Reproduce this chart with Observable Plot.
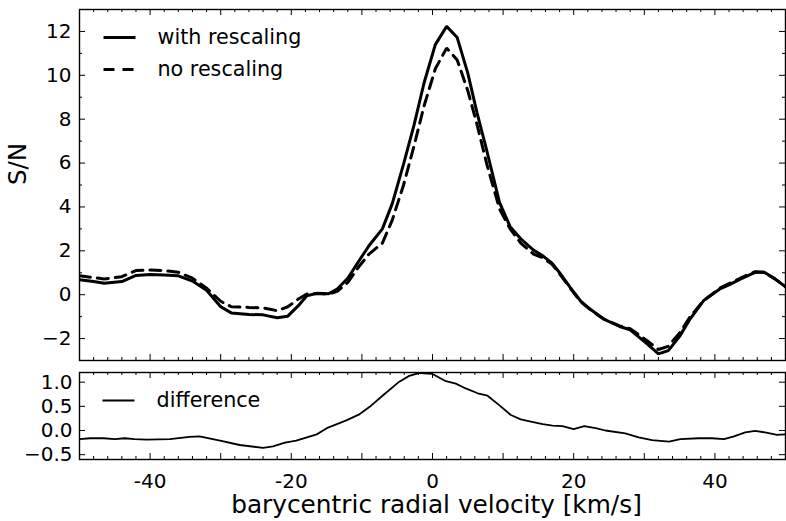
<!DOCTYPE html>
<html>
<head>
<meta charset="utf-8">
<script src="https://cdn.jsdelivr.net/npm/d3@7"></script>
<script src="https://cdn.jsdelivr.net/npm/@observablehq/plot@0.6"></script>
<style>
  body { margin: 0; background: #fff; }
  #chart { position: relative; width: 786px; height: 521px; background: #fff; }
  #chart svg { position: absolute; left: 0; }
</style>
</head>
<body>
<div id="chart"></div>
<script>
// ---- data ----
const velocity = [-50, -48, -46.5, -44, -42, -40, -38, -36, -34, -32, -30, -28.5, -26, -24, -22, -20.5, -19, -17.8, -16.4, -14.7, -13.5, -12, -10.5, -9, -7.1, -5.7, -4.1, -2.6, -1.2, 0.4, 2.0, 3.5, 5.0, 6.3, 7.7, 9.5, 11, 12.5, 14.3, 15.5, 16.9, 18, 19.5, 21, 22.5, 24.2, 26.5, 28, 30.4, 32, 33.4, 35, 36.5, 38.4, 40.7, 42, 43.6, 45.7, 47, 48.5, 50];
const withRescaling = [0.68, 0.6, 0.52, 0.6, 0.88, 0.92, 0.9, 0.86, 0.62, 0.2, -0.55, -0.83, -0.9, -0.92, -1.05, -0.98, -0.5, -0.05, 0.06, 0.04, 0.26, 0.75, 1.5, 2.23, 3.0, 4.15, 5.95, 7.75, 9.65, 11.4, 12.23, 11.72, 10.1, 8.3, 6.55, 4.2, 3.1, 2.55, 2.03, 1.8, 1.45, 1.0, 0.33, -0.3, -0.7, -1.1, -1.45, -1.6, -2.24, -2.7, -2.55, -1.9, -1.1, -0.27, 0.26, 0.45, 0.71, 1.02, 1.02, 0.72, 0.36];
const noRescaling = [0.86, 0.78, 0.72, 0.82, 1.1, 1.12, 1.1, 1.02, 0.75, 0.3, -0.3, -0.55, -0.58, -0.6, -0.73, -0.55, -0.2, 0.03, 0.05, 0.03, 0.15, 0.56, 1.25, 1.85, 2.35, 3.4, 5.0, 6.8, 8.6, 10.3, 11.24, 10.7, 9.3, 7.76, 5.94, 3.9, 3.0, 2.35, 1.85, 1.7, 1.4, 0.95, 0.3, -0.32, -0.72, -1.1, -1.42, -1.55, -2.1, -2.5, -2.35, -1.75, -1.0, -0.27, 0.3, 0.5, 0.75, 1.05, 1.02, 0.72, 0.38];

const diffVelocity = [-50, -48.5, -46.6, -45, -43.6, -42.2, -40.5, -37.2, -34.4, -33, -30.1, -27.3, -24, -22.6, -20.9, -19.3, -16.4, -14.8, -12.2, -10.3, -8.9, -7.0, -4.7, -3.3, -1.8, 0, 1.9, 3.3, 4.7, 6.4, 7.8, 9.4, 11.1, 12.5, 14.1, 15.6, 17, 18.4, 20, 21.5, 23.1, 24.5, 27.3, 29.2, 31.1, 33.5, 35.1, 37.7, 39.6, 41.3, 42.7, 44.3, 45.7, 47.1, 48.8, 50];
const difference = [-0.18, -0.16, -0.16, -0.18, -0.16, -0.18, -0.19, -0.18, -0.13, -0.12, -0.21, -0.30, -0.36, -0.33, -0.25, -0.21, -0.08, 0.06, 0.21, 0.34, 0.49, 0.73, 1.01, 1.13, 1.19, 1.17, 1.02, 0.97, 0.87, 0.77, 0.72, 0.53, 0.32, 0.23, 0.18, 0.13, 0.10, 0.09, 0.03, 0.09, 0.05, 0.0, -0.06, -0.14, -0.2, -0.23, -0.18, -0.16, -0.16, -0.18, -0.12, -0.04, -0.01, -0.04, -0.09, -0.08];

// axis / tick values
const xDomain = [-50, 50];
const topYDomain = [-3, 13];
const bottomYDomain = [-0.6, 1.2];
const xTickLabels = [-40, -20, 0, 20, 40];
const xMajorTicks = [-50, -40, -30, -20, -10, 0, 10, 20, 30, 40, 50];
const xMinorTicks = d3.range(-48, 50, 2).filter(v => v % 10 !== 0);
const topYTickLabels = [-2, 0, 2, 4, 6, 8, 10, 12];
const topYMinorTicks = [-1, 1, 3, 5, 7, 9, 11];
const bottomYTickLabels = [-0.5, 0.0, 0.5, 1.0];

const seriesLabels = ["with rescaling", "no rescaling"];
const diffLabel = "difference";
const yLabel = "S/N";
const xLabel = "barycentric radial velocity [km/s]";

// ---- helpers ----
const FONT = "DejaVu Sans";
const lineShape = { draw(ctx, l) { ctx.moveTo(0, 0); ctx.lineTo(0, -l); } };
const MAJ = 6, MIN = 3;

function frameTicks(yDom, yMajor, yMinor) {
  const marks = [];
  const x0 = xDomain[0], x1 = xDomain[1], y0 = yDom[0], y1 = yDom[1];
  for (const [ticks, len] of [[xMajorTicks, MAJ], [xMinorTicks, MIN]]) {
    marks.push(Plot.ruleX(ticks, {x: d => d, y1: y0, y2: y0, insetTop: -len, stroke: "black", strokeWidth: 1}));
    marks.push(Plot.ruleX(ticks, {x: d => d, y1: y1, y2: y1, insetBottom: -len, stroke: "black", strokeWidth: 1}));
  }
  for (const [ticks, len] of [[yMajor, MAJ], [yMinor, MIN]]) {
    if (!ticks.length) continue;
    marks.push(Plot.ruleY(ticks, {y: d => d, x1: x0, x2: x0, insetRight: -len, stroke: "black", strokeWidth: 1}));
    marks.push(Plot.ruleY(ticks, {y: d => d, x1: x1, x2: x1, insetLeft: -len, stroke: "black", strokeWidth: 1}));
  }
  return marks;
}

const topData = velocity.map((v, i) => ({v, a: withRescaling[i], b: noRescaling[i]}));
const diffData = diffVelocity.map((v, i) => ({v, d: difference[i]}));

const styleObj = {fontFamily: FONT, fontSize: "20px", background: "white", color: "black", overflow: "visible"};

const topPlot = Plot.plot({
  width: 786, height: 362,
  marginTop: 9, marginBottom: 2, marginLeft: 79, marginRight: 1,
  x: {domain: xDomain, axis: null},
  y: {domain: topYDomain, label: null},
  style: styleObj,
  marks: [
    Plot.axisY(topYTickLabels, {tickSize: 0, tickPadding: 8, fontSize: 20, label: null,
      tickFormat: d => d < 0 ? "\u2212" + Math.abs(d) : String(d)}),
    ...frameTicks(topYDomain, topYTickLabels, topYMinorTicks),
    Plot.line(topData, {x: "v", y: "b", stroke: "black", strokeWidth: 3, strokeDasharray: "11,7", strokeLinejoin: "miter", clip: true}),
    Plot.line(topData, {x: "v", y: "a", stroke: "black", strokeWidth: 3, strokeLinejoin: "miter", clip: true}),
    Plot.frame({stroke: "black", strokeWidth: 1.4}),
    // legend
    Plot.vector([0], {frameAnchor: "top-left", dx: 24, dy: 28, length: 32, rotate: 90, anchor: "start",
      shape: lineShape, stroke: "black", fill: "none", strokeWidth: 3, strokeLinecap: "butt"}),
    Plot.vector([0], {frameAnchor: "top-left", dx: 24, dy: 60, length: 30, rotate: 90, anchor: "start",
      shape: lineShape, stroke: "black", fill: "none", strokeWidth: 3, strokeLinecap: "butt", strokeDasharray: "11,8"}),
    Plot.text([seriesLabels[0]], {text: d => d, frameAnchor: "top-left", dx: 78, dy: 28, textAnchor: "start", lineAnchor: "middle", fontSize: 20.7, fill: "black"}),
    Plot.text([seriesLabels[1]], {text: d => d, frameAnchor: "top-left", dx: 78, dy: 60, textAnchor: "start", lineAnchor: "middle", fontSize: 20.7, fill: "black"}),
    Plot.text([yLabel], {text: d => d, frameAnchor: "left", rotate: -90, dx: -61, fontSize: 24.5, fill: "black"})
  ]
});

const bottomPlot = Plot.plot({
  width: 786, height: 159,
  marginTop: 10, marginBottom: 62, marginLeft: 79, marginRight: 1,
  x: {domain: xDomain, label: null},
  y: {domain: bottomYDomain, label: null},
  style: styleObj,
  marks: [
    Plot.axisX(xTickLabels, {tickSize: 0, tickPadding: 14, fontSize: 20, label: null, tickFormat: d => String(d)}),
    Plot.axisY(bottomYTickLabels, {tickSize: 0, tickPadding: 7, fontSize: 20, label: null, tickFormat: d3.format(".1f")}),
    ...frameTicks(bottomYDomain, bottomYTickLabels, []),
    Plot.line(diffData, {x: "v", y: "d", stroke: "black", strokeWidth: 1.8, clip: true}),
    Plot.frame({stroke: "black", strokeWidth: 1.4}),
    Plot.vector([0], {frameAnchor: "top-left", dx: 23, dy: 28, length: 32, rotate: 90, anchor: "start",
      shape: lineShape, stroke: "black", fill: "none", strokeWidth: 1.8, strokeLinecap: "butt"}),
    Plot.text([diffLabel], {text: d => d, frameAnchor: "top-left", dx: 77, dy: 28, textAnchor: "start", lineAnchor: "middle", fontSize: 20.7, fill: "black"}),
    Plot.text([xLabel], {text: d => d, frameAnchor: "bottom", dy: 46, dx: 4, lineAnchor: "middle", fontSize: 24.8, fill: "black"})
  ]
});

const chart = document.getElementById("chart");
topPlot.style.top = "0px";
bottomPlot.style.top = "362px";
chart.appendChild(topPlot);
chart.appendChild(bottomPlot);
</script>
</body>
</html>
